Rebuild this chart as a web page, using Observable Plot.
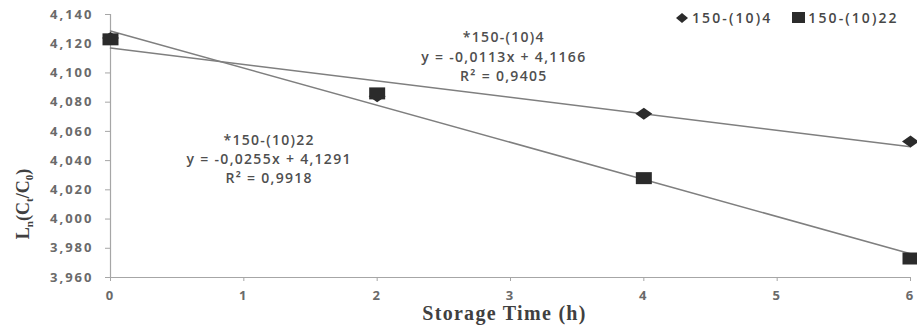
<!DOCTYPE html>
<html><head><meta charset="utf-8">
<script src="https://cdn.jsdelivr.net/npm/d3@7"></script>
<script src="https://cdn.jsdelivr.net/npm/@observablehq/plot@0.6"></script>
<style>
body{margin:0;background:#fff;}
#wrap{position:relative;width:917px;height:325px;}
#legend{position:absolute;left:675px;top:8px;font-family:"Open Sans";font-size:14px;font-weight:600;color:#474747;letter-spacing:2.1px;display:flex;align-items:center;white-space:nowrap;}
#legend svg{margin-right:3px;}
#legend span.item{display:flex;align-items:center;margin-right:20px;}
</style></head><body><div id="wrap"><div id="legend"></div></div>
<script>
const times = [0, 2, 4, 6];
const series4 = [4.124, 4.084, 4.072, 4.053];
const series22 = [4.123, 4.086, 4.028, 3.973];
const seriesNames = ["150-(10)4", "150-(10)22"];
const annotationLabels = [
  "*150-(10)4\ny = -0,0113x + 4,1166\nR² = 0,9405",
  "*150-(10)22\ny = -0,0255x + 4,1291\nR² = 0,9918"
];
const annotationX = [2.95, 1.19];
const annotationY = [4.112, 4.042];
const xTicks = [0, 1, 2, 3, 4, 5, 6];
const yTicks = [3.96, 3.98, 4.00, 4.02, 4.04, 4.06, 4.08, 4.10, 4.12, 4.14];
const xLabel = "Storage Time (h)";

const data = [];
times.forEach((t, i) => {
  data.push({time: t, value: series4[i], series: seriesNames[0]});
});
times.forEach((t, i) => {
  data.push({time: t, value: series22[i], series: seriesNames[1]});
});
const annotations = annotationLabels.map((text, i) => ({text, x: annotationX[i], y: annotationY[i]}));

const diamondSym = {draw(ctx) { ctx.moveTo(0, -6); ctx.lineTo(8.5, 0); ctx.lineTo(0, 6); ctx.lineTo(-8.5, 0); ctx.closePath(); }};
const squareSym = {draw(ctx) { ctx.moveTo(-8, -6); ctx.lineTo(8, -6); ctx.lineTo(8, 6); ctx.lineTo(-8, 6); ctx.closePath(); }};

const fmt = d => d.toFixed(3).replace(".", ",");

const chart = Plot.plot({
  width: 917,
  height: 325,
  marginTop: 14,
  marginBottom: 48,
  marginLeft: 110,
  marginRight: 7,
  style: {fontFamily: "Open Sans", fontSize: "13px", color: "#666", background: "#fff"},
  x: {domain: [0, 6], ticks: xTicks, tickFormat: d => String(d), tickSize: 4, tickPadding: 9, label: null},
  y: {domain: [3.96, 4.14], ticks: yTicks, tickFormat: fmt, tickSize: 5, tickPadding: 12, label: null},
  marks: [
    Plot.axisX({ticks: xTicks, tickFormat: d => String(d), tickSize: 4, tickPadding: 9, label: null, fontSize: 13, fontWeight: 600, fill: "#666"}),
    Plot.axisY({ticks: yTicks, tickFormat: fmt, tickSize: 5, tickPadding: 12, label: null, fontSize: 13, fontWeight: 600, fill: "#666"}),
    Plot.ruleY([3.96], {stroke: "#a6a6a6", strokeWidth: 1.2}),
    Plot.ruleX([0], {stroke: "#a6a6a6", strokeWidth: 1.2}),
    Plot.linearRegressionY(data, {x: "time", y: "value", z: "series", ci: 0, stroke: "#7f7f7f", strokeWidth: 1.5}),
    Plot.dot(data.filter(d => d.series === seriesNames[0]), {x: "time", y: "value", symbol: diamondSym, fill: "#2b2b2b", stroke: "none", r: 6}),
    Plot.dot(data.filter(d => d.series === seriesNames[1]), {x: "time", y: "value", symbol: squareSym, fill: "#2b2b2b", stroke: "none", r: 6}),
    Plot.text(annotations, {x: "x", y: "y", text: "text", lineAnchor: "middle", lineHeight: 1.36, fontSize: 14, fontWeight: 600, fill: "#4f4f4f", fontFamily: "Open Sans"}),
    Plot.text([xLabel], {frameAnchor: "bottom", dy: 36, dx: -6, lineAnchor: "middle", fontFamily: "Liberation Serif", fontWeight: "bold", fontSize: 20, fill: "#404040"})
  ]
});

const svg = d3.select(chart);
svg.selectAll('g[aria-label*="axis"] path, g[aria-label*="axis"] line').attr("stroke", "#a6a6a6").style("stroke", "#a6a6a6");
svg.selectAll('g[aria-label*="axis"]').attr("font-size", 13).style("font-size", "13px");
svg.selectAll('g[aria-label*="axis"] text').attr("font-size", 13).style("font-size", "13px")
  .style("letter-spacing", "2px").style("font-weight", "700").style("fill", "#6a6a6a").style("stroke", "none");
svg.selectAll('g[aria-label="text"]').style("letter-spacing", "1.3px");

const yl = svg.append("text")
  .attr("transform", "translate(29,204) rotate(-90)")
  .attr("text-anchor", "middle")
  .attr("font-family", "Liberation Serif")
  .attr("font-weight", "bold")
  .attr("font-size", 18)
  .attr("fill", "#404040");
yl.append("tspan").text("L");
yl.append("tspan").attr("font-size", 11).attr("dy", 4).text("n");
yl.append("tspan").attr("dy", -4).text("(C");
yl.append("tspan").attr("font-size", 11).attr("dy", 4).text("t");
yl.append("tspan").attr("dy", -4).text("/C");
yl.append("tspan").attr("font-size", 11).attr("dy", 4).text("0");
yl.append("tspan").attr("dy", -4).text(")");

document.getElementById("wrap").prepend(chart);

const legend = document.getElementById("legend");
const syms = [
  '<svg width="14" height="12"><path d="M7,1 L13,6 L7,11 L1,6 Z" fill="#2b2b2b"/></svg>',
  '<svg width="13" height="11"><rect x="0" y="0" width="13" height="11" fill="#2b2b2b"/></svg>'
];
seriesNames.forEach((name, i) => {
  const s = document.createElement("span");
  s.className = "item";
  s.innerHTML = syms[i] + "<span>" + name + "</span>";
  legend.appendChild(s);
});
</script>
</body></html>
